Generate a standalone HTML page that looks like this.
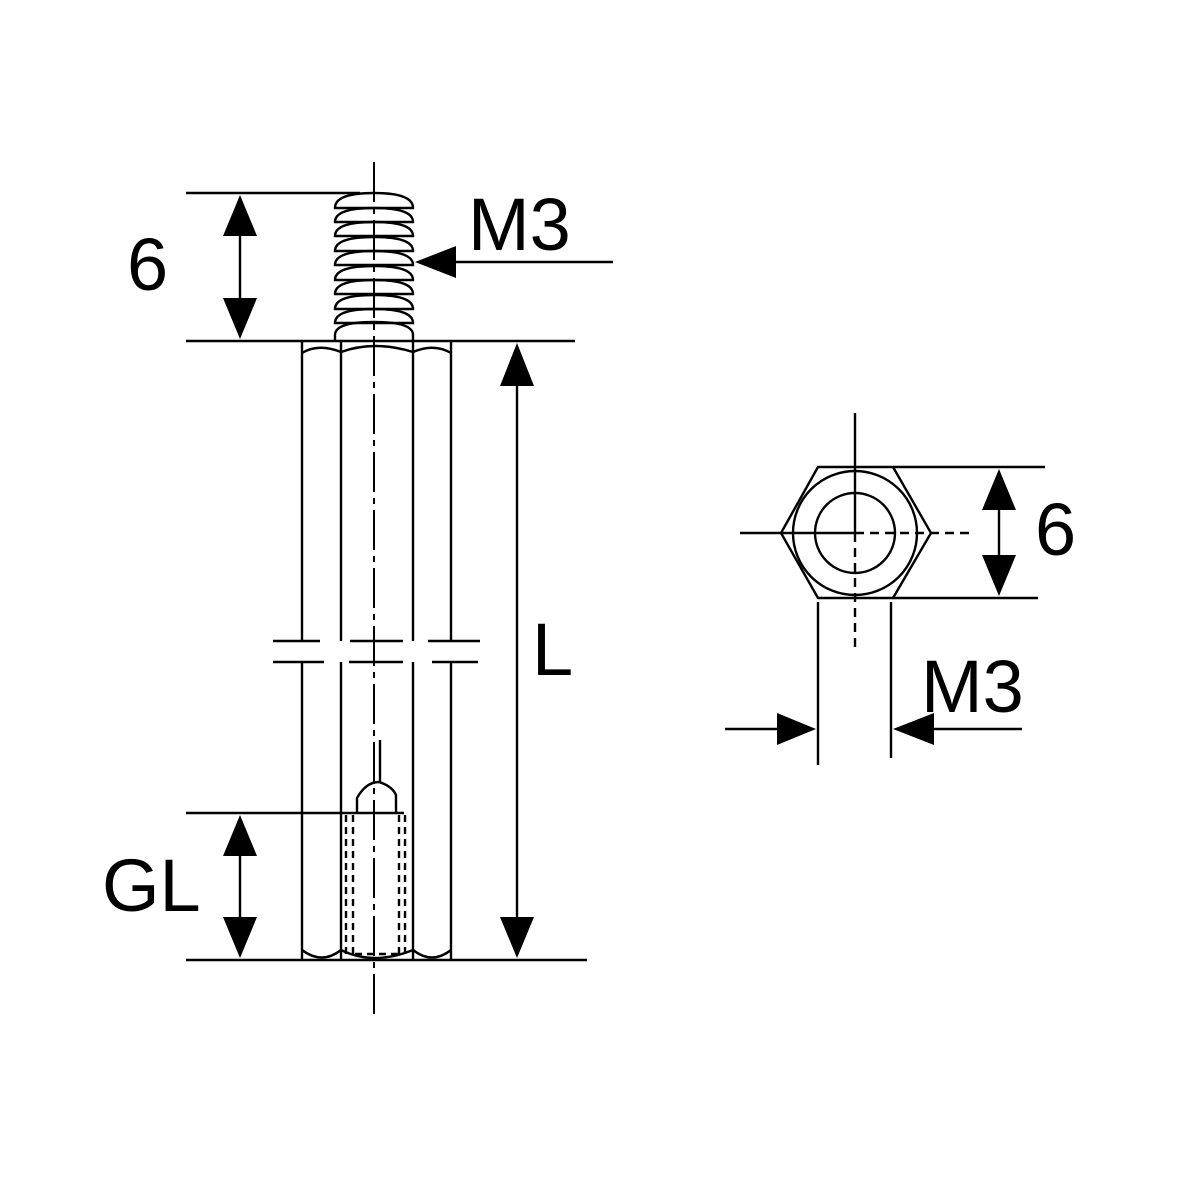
<!DOCTYPE html>
<html><head><meta charset="utf-8"><style>html,body{margin:0;padding:0;background:#fff}svg{display:block}</style></head>
<body>
<svg width="1181" height="1181" viewBox="0 0 1181 1181" xmlns="http://www.w3.org/2000/svg">
<g fill="none" stroke="#000" stroke-width="2.4">
<line x1="374" y1="162" x2="374" y2="1017" stroke-dasharray="40,6,6,6" stroke-width="2"/>
<path d="M335 208 Q335 193 374 193 Q413 193 413 208 Z"/>
<path d="M335 222 Q335 208 374 208 Q413 208 413 222 Z"/>
<path d="M335 236 Q335 222 374 222 Q413 222 413 236 Z"/>
<path d="M335 251 Q335 237 374 237 Q413 237 413 251 Z"/>
<path d="M335 265 Q335 251 374 251 Q413 251 413 265 Z"/>
<path d="M335 280 Q335 266 374 266 Q413 266 413 280 Z"/>
<path d="M335 294 Q335 280 374 280 Q413 280 413 294 Z"/>
<path d="M335 309 Q335 295 374 295 Q413 295 413 309 Z"/>
<path d="M335 323 Q335 309 374 309 Q413 309 413 323 Z"/>
<path d="M335 341 L335 335 Q335 322 374 322 Q413 322 413 335 L413 341"/>
<line x1="186" y1="193" x2="360" y2="193"/>
<line x1="186" y1="341" x2="575" y2="341"/>
<line x1="186" y1="960" x2="587" y2="960"/>
<line x1="186" y1="813" x2="404" y2="813"/>
<path d="M302 341V641 M341 341V641 M413 341V641 M451 341V641"/>
<path d="M302 662V960 M341 662V960 M413 662V960 M451 662V960"/>
<path d="M273 641H320 M350 641H403 M428 641H480 M273 662H324 M349 662H403 M432 662H478"/>
<path d="M302 353 Q318 343 341 352 Q374 340 413 352 Q434 343 451 353"/>
<path d="M302 950 Q322 965 341 950 Q374 966 413 950 Q432 965 451 950"/>
<path d="M346 815V955 M353 815V955 M399 815V955 M405 815V955 M355 954H399" stroke-dasharray="7,5"/>
<path d="M357 813V798 Q366 782 379 782 Q392 786 396 795 V813"/>
<line x1="380" y1="740" x2="380" y2="782"/>
<polygon points="781,533 818,467 893,467 931,533 893,598 818,598"/>
<circle cx="855" cy="533" r="62"/>
<circle cx="855" cy="533" r="40"/>
<line x1="740" y1="533" x2="855" y2="533"/>
<line x1="855" y1="533" x2="975" y2="533" stroke-dasharray="9,6"/>
<line x1="855" y1="413" x2="855" y2="533"/>
<line x1="855" y1="533" x2="855" y2="652" stroke-dasharray="9,6"/>
<line x1="893" y1="467" x2="1045" y2="467"/>
<line x1="893" y1="598" x2="1038" y2="598"/>
<line x1="818" y1="602" x2="818" y2="765"/>
<line x1="891" y1="602" x2="891" y2="758"/>
<line x1="240" y1="230" x2="240" y2="305"/>
<line x1="240" y1="850" x2="240" y2="925"/>
<line x1="517" y1="380" x2="517" y2="925"/>
<line x1="999" y1="505" x2="999" y2="560"/>
<line x1="455" y1="262" x2="613" y2="262"/>
<line x1="725" y1="729" x2="780" y2="729"/>
<line x1="930" y1="729" x2="1022" y2="729"/>
</g>
<g fill="#000">
<polygon points="240,195 223,236 257,236"/>
<polygon points="240,339 223,298 257,298"/>
<polygon points="240,815 223,856 257,856"/>
<polygon points="240,958 223,917 257,917"/>
<polygon points="517,343 500,386 534,386"/>
<polygon points="517,958 500,917 534,917"/>
<polygon points="999,469 982,510 1016,510"/>
<polygon points="999,596 982,555 1016,555"/>
<polygon points="415,262 456,246 456,278"/>
<polygon points="816,729 777,713 777,745"/>
<polygon points="893,729 934,713 934,745"/>
</g>
<g font-family="Liberation Sans, sans-serif" font-size="74" fill="#000">
<text x="127" y="290">6</text>
<text x="468" y="250">M3</text>
<text x="532" y="675">L</text>
<text x="102" y="911">GL</text>
<text x="1035" y="555">6</text>
<text x="921" y="712">M3</text>
</g>
</svg>
</body></html>
